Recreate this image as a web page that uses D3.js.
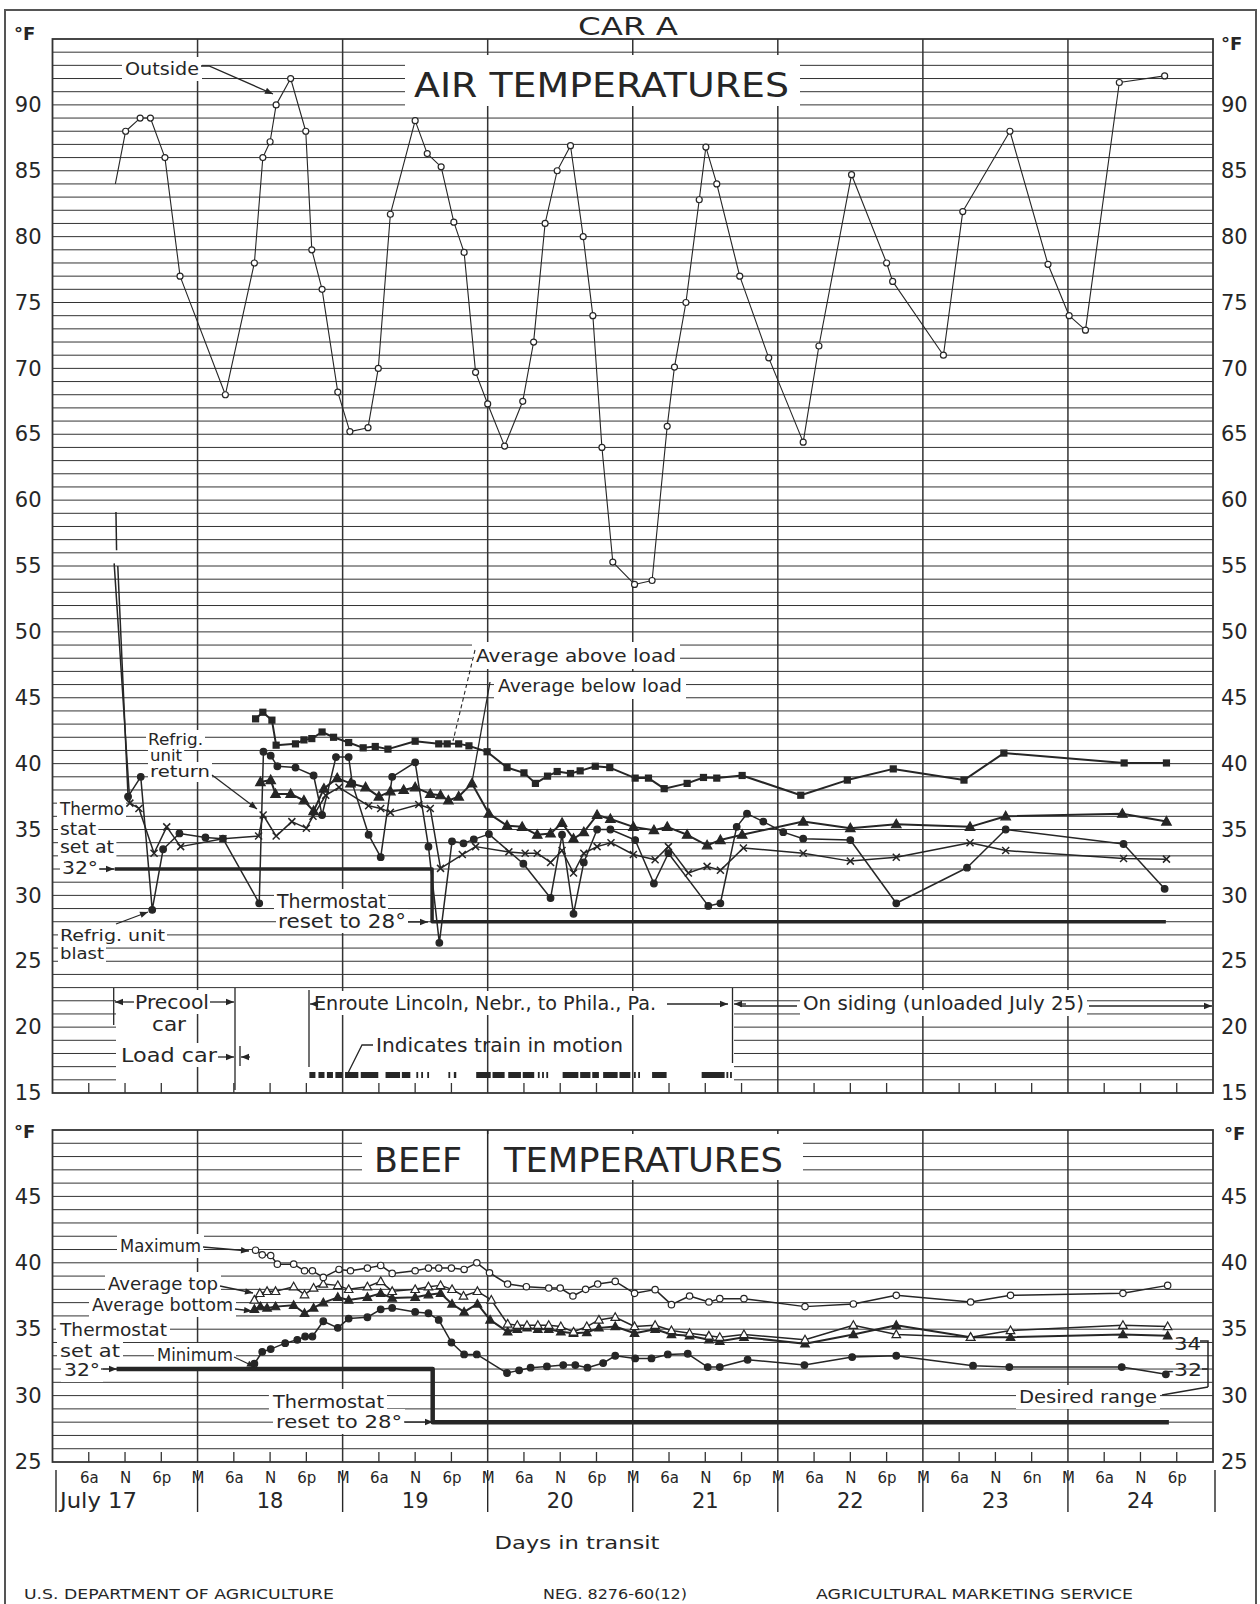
<!DOCTYPE html>
<html><head><meta charset="utf-8">
<script src="https://cdn.jsdelivr.net/npm/d3@7/dist/d3.min.js"></script>
<style>
html,body{margin:0;padding:0;background:#fff}
svg{display:block}
</style></head>
<body><svg id="chart" width="1260" height="1604"></svg>
<script>
// ---------------- DATA ----------------
const dayLabels = ["July 17","18","19","20","21","22","23","24"];
const hourTickLabels = ["6a","N","6p","M","6a","N","6p","M","6a","N","6p","M","6a","N","6p","M",
  "6a","N","6p","M","6a","N","6p","M","6a","N","6n","M","6a","N","6p"];
const airTicks = [15,20,25,30,35,40,45,50,55,60,65,70,75,80,85,90];
const beefTicks = [25,30,35,40,45];

// [hours after midnight starting July 17, °F]
const outsideAir = [[10.4,84],[12.1,88],[14.5,89],[16.2,89],[18.6,86],[21.1,77],[28.6,68],[33.4,78],[34.8,86],
  [36.0,87.2],[37.0,90],[39.4,92],[41.9,88],[42.9,79],[44.6,76],[47.2,68.2],[49.2,65.2],[52.2,65.5],[53.9,70],
  [55.9,81.7],[60.0,88.8],[62.0,86.3],[64.3,85.3],[66.4,81.1],[68.1,78.8],[70.0,69.7],[72.0,67.3],[74.8,64.1],
  [77.8,67.5],[79.6,72],[81.5,81],[83.5,85],[85.7,86.9],[87.8,80],[89.4,74],[90.9,64],[92.7,55.3],[96.3,53.6],
  [99.2,53.9],[101.7,65.6],[102.9,70.1],[104.8,75],[107.0,82.8],[108.1,86.8],[109.9,84],[113.7,77],[118.5,70.8],
  [124.2,64.4],[126.8,71.7],[132.2,84.7],[138.0,78],[139.0,76.6],[147.4,71],[150.6,81.9],[158.4,88],[164.7,77.9],
  [168.2,74],[170.9,72.9],[176.5,91.7],[184.0,92.2]];
const avgAboveLoad = [[33.6,43.4],[34.8,43.9],[36.3,43.3],[37.0,41.4],[40.2,41.5],[41.6,41.8],[42.9,41.9],[44.6,42.4],
  [46.5,42.0],[49.0,41.6],[51.4,41.2],[53.4,41.3],[55.5,41.1],[60.0,41.7],[63.9,41.5],[65.3,41.5],[67.2,41.5],
  [68.9,41.35],[71.9,40.9],[75.2,39.7],[78.0,39.3],[79.9,38.5],[81.9,39.05],[83.5,39.4],[85.7,39.25],[87.3,39.45],
  [89.8,39.8],[92.2,39.7],[96.4,38.9],[98.6,38.9],[101.2,38.1],[105.0,38.5],[107.7,38.95],[109.9,38.9],[114.1,39.1],
  [123.8,37.6],[131.5,38.75],[139.1,39.6],[150.8,38.75],[157.4,40.8],[177.3,40.05],[184.3,40.05]];
const avgBelowLoad = [[34.4,38.6],[36.1,38.75],[36.9,37.7],[39.4,37.7],[41.6,37.2],[43.2,36.4],[44.9,38.1],[47.1,38.9],
  [49.3,38.5],[51.8,38.2],[54.0,37.5],[55.9,37.9],[58.1,38.0],[60.0,38.2],[62.5,37.7],[64.2,37.6],[65.5,37.2],
  [67.2,37.5],[69.4,38.5],[72.2,36.2],[75.2,35.3],[77.7,35.2],[80.2,34.6],[82.4,34.7],[84.3,35.5],[86.2,34.3],
  [87.9,34.8],[90.1,36.1],[92.3,35.8],[96.1,35.2],[99.5,34.95],[101.7,35.2],[105.0,34.6],[108.3,33.8],[110.5,34.2],
  [114.1,34.6],[124.2,35.6],[132.0,35.1],[139.6,35.4],[151.8,35.2],[157.7,36.0],[177.0,36.2],[184.3,35.6]];
const unitReturn = [[10.2,55.2],[12.8,37.0],[14.3,36.6],[16.8,33.2],[18.9,35.2],[21.2,33.7],[28.2,34.3],[34.1,34.5],
  [34.85,36.1],[37.0,34.5],[39.6,35.6],[42.0,35.1],[43.1,36.0],[45.2,37.6],[47.4,38.2],[52.3,36.8],[54.3,36.6],
  [55.9,36.3],[60.6,36.9],[62.5,36.6],[64.2,32.05],[67.8,33.1],[70.0,33.7],[75.5,33.3],[78.2,33.2],[80.2,33.2],
  [82.4,32.5],[84.3,33.4],[86.2,31.7],[87.9,33.2],[90.1,33.7],[92.4,34.0],[96.1,33.1],[99.7,32.7],[101.9,33.7],
  [105.2,31.7],[108.3,32.2],[110.5,31.9],[114.3,33.6],[124.2,33.2],[132.0,32.6],[139.6,32.9],[151.8,34.0],
  [157.7,33.4],[177.2,32.8],[184.3,32.75]];
const unitBlast = [[10.8,55.0],[12.5,37.5],[14.6,39.0],[16.5,28.9],[18.3,33.5],[21.0,34.7],[25.3,34.4],[28.2,34.3],
  [34.2,29.4],[34.9,40.9],[36.1,40.6],[37.2,39.8],[40.2,39.7],[43.2,39.1],[44.6,36.1],[46.9,40.5],[49.0,40.5],
  [49.6,38.5],[52.3,34.6],[54.3,32.9],[56.2,39.0],[60.0,40.1],[62.2,33.7],[64.0,26.4],[66.1,34.1],[68.0,33.95],
  [69.7,34.25],[72.2,34.65],[77.9,32.4],[82.4,29.8],[84.3,34.6],[86.2,28.6],[87.9,32.5],[90.1,35.0],[92.3,35.0],
  [96.4,34.2],[99.5,30.9],[101.9,33.2],[108.5,29.2],[110.5,29.4],[113.2,35.2],[114.9,36.2],[117.6,35.6],
  [120.9,34.8],[124.2,34.3],[132.0,34.2],[139.6,29.4],[151.3,32.1],[157.7,35.0],[177.2,33.9],[184.0,30.5]];
const blastStartMark = [[10.5,59.1],[10.6,56.2]];
const thermostatAir = [[10.3,32],[62.8,32],[62.8,28],[184.2,28]];
const trainMotion = [[42.5,43.5],[44,45],[45.4,46.4],[46.8,47.9],[48.4,50.6],[51,53.9],[55.1,57.5],[57.8,59.2],
  [60.2,60.5],[61,61.3],[62,62.3],[65.5,65.8],[66.4,66.8],[70.1,72.5],[72.8,74.8],[75.4,77.5],[77.8,79.7],
  [80.3,80.6],[81,81.3],[81.7,82],[84.4,87],[87.3,89],[89.3,90.4],[91.1,93.5],[93.8,95.6],[96.2,96.5],
  [96.9,97.2],[99.2,101.6],[107.4,111.2],[111.5,111.8],[112.1,112.4]];

const beefMax = [[33.6,40.95],[34.7,40.6],[36.1,40.55],[37.2,39.9],[39.9,39.9],[41.7,39.4],[43.0,39.4],[44.8,38.9],
  [47.4,39.5],[49.3,39.4],[52.1,39.6],[54.3,39.8],[56.2,39.2],[60.0,39.4],[62.2,39.6],[63.9,39.6],[66.0,39.6],
  [68.1,39.5],[70.2,40.0],[72.3,39.25],[75.3,38.4],[78.4,38.2],[82.1,38.1],[84.0,38.1],[86.1,37.5],[88.2,38.0],
  [90.2,38.4],[93.1,38.6],[96.3,37.7],[99.7,37.98],[102.4,36.85],[105.4,37.5],[108.6,37.05],[110.4,37.3],
  [114.4,37.3],[124.5,36.7],[132.5,36.9],[139.6,37.55],[151.9,37.05],[158.5,37.55],[177.1,37.7],[184.5,38.3]];
const beefAvgTop = [[33.4,37.2],[34.3,37.7],[35.5,37.85],[36.9,37.85],[39.9,38.2],[41.7,37.6],[43.2,38.1],[44.8,38.4],
  [47.2,38.3],[49.0,38.0],[52.1,38.2],[54.3,38.6],[56.2,37.85],[60.0,38.0],[62.2,38.2],[64.2,38.3],[66.1,38.0],
  [68.0,37.5],[70.3,37.85],[72.6,37.2],[75.3,35.4],[76.9,35.3],[78.5,35.3],[80.3,35.3],[82.1,35.3],[84.1,35.2],
  [86.2,34.8],[88.4,35.2],[90.4,35.7],[93.1,35.9],[96.3,35.2],[99.7,35.3],[102.4,34.9],[105.4,34.7],[108.6,34.5],
  [110.4,34.4],[114.4,34.6],[124.5,34.2],[132.5,35.3],[139.6,34.6],[151.9,34.4],[158.5,34.9],[177.1,35.3],[184.5,35.2]];
const beefAvgBottom = [[33.4,36.5],[34.4,36.7],[35.5,36.6],[36.9,36.7],[39.9,36.8],[41.7,36.2],[43.2,36.6],[44.8,37.0],
  [47.2,37.4],[49.0,37.2],[52.1,37.4],[54.3,37.7],[56.2,37.35],[60.0,37.4],[62.2,37.6],[64.2,37.7],[66.1,36.9],
  [68.1,36.3],[70.3,36.9],[72.4,35.7],[75.3,34.8],[76.9,35.0],[78.5,35.1],[80.3,35.0],[82.1,35.0],[84.1,34.8],
  [86.2,34.7],[88.4,34.75],[90.4,35.1],[93.1,35.2],[96.3,34.7],[99.7,35.0],[102.4,34.6],[105.4,34.5],[108.6,34.2],
  [110.4,34.1],[114.4,34.4],[124.5,33.9],[132.5,34.6],[139.6,35.3],[151.9,34.4],[158.5,34.4],[177.1,34.6],[184.5,34.5]];
const beefMin = [[33.4,32.4],[34.7,33.3],[36.1,33.5],[38.5,33.95],[40.5,34.2],[41.8,34.45],[43.0,34.45],[44.8,35.6],
  [47.2,35.1],[49.0,35.8],[52.1,35.9],[54.3,36.5],[56.2,36.6],[60.0,36.3],[62.2,36.2],[63.9,35.7],[66.0,34.0],
  [68.1,33.1],[70.2,33.1],[75.2,31.7],[77.2,31.9],[79.1,32.1],[81.8,32.2],[84.5,32.3],[86.5,32.3],[88.5,32.1],
  [91.1,32.45],[93.1,33.0],[96.4,32.8],[99.1,32.8],[101.8,33.1],[105.1,33.15],[108.4,32.15],[110.4,32.15],
  [115.0,32.7],[124.4,32.3],[132.3,32.9],[139.6,33.0],[152.3,32.25],[158.3,32.15],[176.9,32.15],[184.2,31.6]];
const thermostatBeef = [[10.6,32],[62.9,32],[62.9,28],[184.7,28]];

// ---------------- DRAWING ----------------
const svg = d3.select("#chart");
const ink = "#262626";
const FONT = "'DejaVu Sans', 'Noto Sans', sans-serif";
const x = d3.scaleLinear().domain([0,192]).range([52.5,1213]);
const yA = d3.scaleLinear().domain([15,95]).range([1093,39]);
const yB = d3.scaleLinear().domain([25,50]).range([1462,1130]);

svg.append("rect").attr("width",1260).attr("height",1604).attr("fill","#fff");
svg.append("path").attr("d","M5,1604V10H1256V1604").attr("fill","none").attr("stroke","#555").attr("stroke-width",2);

const defs = svg.append("defs");
defs.append("marker").attr("id","ah").attr("viewBox","0 0 10 10").attr("refX",10).attr("refY",5)
  .attr("markerWidth",9).attr("markerHeight",8).attr("markerUnits","userSpaceOnUse").attr("orient","auto")
  .append("path").attr("d","M0,1L10,5L0,9Z").attr("fill",ink);

const gridL = svg.append("g").attr("stroke","#333").attr("fill","none");
const bgL = svg.append("g").attr("fill","#fff");
const annL = svg.append("g").attr("stroke",ink).attr("fill","none");
const serL = svg.append("g");
const txtL = svg.append("g").attr("font-family",FONT).attr("fill",ink);

function hline(y,x1,x2,w){gridL.append("line").attr("x1",x1).attr("x2",x2).attr("y1",y).attr("y2",y).attr("stroke-width",w);}
function vline(g,xx,y1,y2,w){g.append("line").attr("x1",xx).attr("x2",xx).attr("y1",y1).attr("y2",y2).attr("stroke-width",w);}

// horizontal grid
d3.range(16,95).forEach(v=>{
  const y=yA(v);
  if(v<=22){hline(y,x(0),116,1); hline(y,734,x(192),1);} else hline(y,x(0),x(192),1);
});
d3.range(26,50).forEach(v=>hline(yB(v),x(0),x(192),1));
// panel borders
gridL.append("rect").attr("x",x(0)).attr("y",yA(95)).attr("width",x(192)-x(0)).attr("height",yA(15)-yA(95)).attr("stroke-width",1.8);
gridL.append("rect").attr("x",x(0)).attr("y",yB(50)).attr("width",x(192)-x(0)).attr("height",yB(25)-yB(50)).attr("stroke-width",1.8);
// midnight verticals and 6-hour ticks
d3.range(24,192,24).forEach(h=>{vline(gridL,x(h),yA(95),yA(15),1.5); vline(gridL,x(h),yB(50),yB(25),1.5);});
d3.range(6,192,6).filter(h=>h%24).forEach(h=>{vline(gridL,x(h),yA(15)-10,yA(15),1.3); vline(gridL,x(h),yB(25)-10,yB(25),1.3);});

// text helper
function T(str,x0,y0,size,o={}){
  const t=txtL.append("text").attr("x",x0).attr("y",y0).attr("font-size",size).text(str);
  if(o.len) t.attr("textLength",o.len).attr("lengthAdjust","spacingAndGlyphs");
  if(o.anchor) t.attr("text-anchor",o.anchor);
  if(o.weight) t.attr("font-weight",o.weight);
  if(o.bg){const b=t.node().getBBox(); const p=o.bg;
    bgL.append("rect").attr("x",b.x-p).attr("y",b.y-p+1).attr("width",b.width+2*p).attr("height",b.height+2*p-2);}
  return t;
}
function arrow(pts,o={}){
  const p=annL.append("path").attr("d",d3.line()(pts)).attr("stroke-width",o.w||1.3);
  if(o.head!==false) p.attr("marker-end","url(#ah)");
  if(o.dash) p.attr("stroke-dasharray",o.dash);
}

// titles
T("CAR  A",578,35,25,{len:100});
T("°F",14,40,18,{weight:"bold"}); T("°F",1221,50,18,{weight:"bold"});
T("°F",14,1138,18,{weight:"bold"}); T("°F",1224,1140,18,{weight:"bold"});
bgL.append("rect").attr("x",405).attr("y",55).attr("width",395).attr("height",51);
T("AIR  TEMPERATURES",414,97,34,{len:375});
bgL.append("rect").attr("x",362).attr("y",1134).attr("width",441).attr("height",46);
vline(annL,x(72),1130,1180,1.5);
T("BEEF",374,1172,34,{len:88});
T("TEMPERATURES",504,1172,34,{len:279});

// axes (value labels)
function styleAxis(g,size){g.select(".domain").remove(); g.selectAll("text").attr("font-family",FONT).attr("font-size",size).attr("fill",ink);}
svg.append("g").attr("transform",`translate(${x(0)},0)`).call(d3.axisLeft(yA).tickValues(airTicks).tickSize(0).tickPadding(11)).call(g=>styleAxis(g,21));
svg.append("g").attr("transform",`translate(${x(192)},0)`).call(d3.axisRight(yA).tickValues(airTicks).tickSize(0).tickPadding(8)).call(g=>styleAxis(g,21));
svg.append("g").attr("transform",`translate(${x(0)},0)`).call(d3.axisLeft(yB).tickValues(beefTicks).tickSize(0).tickPadding(11)).call(g=>styleAxis(g,21));
svg.append("g").attr("transform",`translate(${x(192)},0)`).call(d3.axisRight(yB).tickValues(beefTicks).tickSize(0).tickPadding(8)).call(g=>styleAxis(g,21));
// time axis
svg.append("g").attr("transform","translate(0,1472)")
  .call(d3.axisBottom(x).tickValues(d3.range(6,192,6)).tickSize(0).tickPadding(0).tickFormat((d,i)=>hourTickLabels[i]))
  .call(g=>styleAxis(g,15));
[56].concat(d3.range(24,192,24).map(h=>x(h)),[1215]).forEach(xx=>vline(annL,xx,1470,1512,1.4));
dayLabels.forEach((d,i)=>{
  if(i===0) T(d,60,1508,21,{len:77});
  else T(d,x(24*i+12),1508,21,{anchor:"middle"});
});
T("Days  in  transit",577,1549,18,{anchor:"middle",len:165});
T("U.S. DEPARTMENT  OF  AGRICULTURE",24,1599,14,{len:310});
T("NEG.  8276-60(12)",543,1599,14,{len:144});
T("AGRICULTURAL  MARKETING  SERVICE",816,1599,14,{len:317});

// ----- air annotations -----
T("Outside",125,75,17,{len:74,bg:3}); arrow([[201,66],[209,66],[273,94]]);
T("Refrig.",148,745,15,{len:55,bg:2}); T("unit",150,761,15,{len:32,bg:2}); T("return",150,777,15,{len:60,bg:2});
arrow([[212,775],[257,809]]);
T("Thermo",60,815,17,{len:64,bg:2}); T("stat",60,835,17,{len:36,bg:2}); T("set at",60,853,17,{len:54,bg:2});
T("32°",62,874,17,{len:36,bg:2}); arrow([[99,869],[114,869]]);
T("Refrig. unit",60,941,16,{len:105,bg:2}); T("blast",60,959,16,{len:44,bg:2}); arrow([[116,924],[148,912]]);
T("Thermostat",277,908,19,{len:109,bg:2}); T("reset to 28°",278,928,19,{len:128,bg:2}); arrow([[408,922],[428,922]]);
T("Average  above  load",476,662,18,{len:200,bg:4}); T("Average  below  load",498,692,18,{len:184,bg:4});
arrow([[475,650],[453,741]],{head:false,dash:"4,3",w:1.1}); arrow([[490,682],[472,782]],{head:false,w:1.3});
// zone labels
T("Precool",135,1009,19,{len:74,bg:2}); T("car",169,1031,19,{anchor:"middle",len:34,bg:2});
T("Load car",121,1062,19,{len:96,bg:2});
T("Enroute Lincoln, Nebr., to Phila., Pa.",314,1010,19,{len:342,bg:2});
T("On  siding (unloaded  July 25)",803,1010,19,{len:281,bg:3});
T("Indicates  train  in  motion",376,1052,19,{len:247});
vline(annL,113.7,988,1025,1.3); vline(annL,235,988,1090,1.3); vline(annL,240,1046,1066,1.3);
vline(annL,309,990,1067,1.3); vline(annL,732.5,988,1063,1.3);
arrow([[134,1002],[115,1002]]); arrow([[210,1002],[234,1002]]);
arrow([[218,1057],[234,1057]]); arrow([[250,1057],[241,1057]]);
arrow([[318,1004],[310,1004]]); arrow([[667,1004],[728,1004]]); arrow([[746,1004],[734,1004]]);
arrow([[740,1006],[797,1006]],{head:false}); arrow([[1089,1006],[1212,1006]]);
arrow([[373,1045],[362,1045],[348,1073]],{head:false});
serL.append("g").attr("fill",ink).selectAll("rect").data(trainMotion).join("rect")
  .attr("x",d=>x(d[0])).attr("width",d=>x(d[1])-x(d[0])).attr("y",1072).attr("height",6);

// ----- beef annotations -----
T("Maximum",120,1252,17,{len:81,bg:3}); arrow([[203,1247],[249,1251]]);
T("Average  top",108,1290,17,{len:110,bg:3}); arrow([[220,1286],[253,1293]]);
T("Average  bottom",92,1311,17,{len:141,bg:3}); arrow([[235,1309],[252,1311]]);
T("Thermostat",60,1336,18,{len:107,bg:3}); T("set at",60,1357,18,{len:60,bg:3});
T("32°",64,1376,18,{len:36,bg:3}); arrow([[101,1369],[117,1369]]);
T("Minimum",157,1361,17,{len:76,bg:3}); arrow([[234,1357],[255,1367]]);
T("Thermostat",273,1408,18,{len:111,bg:3}); T("reset to 28°",276,1428,18,{len:126,bg:3}); arrow([[404,1422],[433,1422]]);
T("34",1174,1350,17,{len:27}); T("-32",1166,1376,17,{len:36});
annL.append("path").attr("d","M1200,1341H1208V1387M1202,1369H1208").attr("stroke-width",1.5);
arrow([[1208,1387],[1162,1395]],{head:false,w:1.5});
T("Desired range",1019,1403,17,{len:138,bg:3});

// ----- series -----
function marker(g,type,cx,cy,s){
  if(type==="ocircle"||type==="circle")
    g.append("circle").attr("cx",cx).attr("cy",cy).attr("r",s).attr("fill",type==="circle"?ink:"#fff").attr("stroke",ink).attr("stroke-width",1.2);
  else if(type==="square")
    g.append("rect").attr("x",cx-s).attr("y",cy-s).attr("width",2*s).attr("height",2*s).attr("fill",ink);
  else if(type==="tri"||type==="otri")
    g.append("path").attr("d",`M${cx},${cy-s}L${cx+s*0.95},${cy+s*0.7}L${cx-s*0.95},${cy+s*0.7}Z`)
     .attr("fill",type==="tri"?ink:"#fff").attr("stroke",ink).attr("stroke-width",1.2);
  else if(type==="x")
    g.append("path").attr("d",`M${cx-s},${cy-s}L${cx+s},${cy+s}M${cx+s},${cy-s}L${cx-s},${cy+s}`).attr("stroke",ink).attr("stroke-width",1.5);
}
function series(data,y,o){
  serL.append("path").datum(data).attr("d",d3.line().x(d=>x(d[0])).y(d=>y(d[1])))
    .attr("fill","none").attr("stroke",ink).attr("stroke-width",o.w).attr("stroke-linejoin","round");
  if(!o.marker) return;
  const g=serL.append("g");
  (o.skipFirst?data.slice(1):data).forEach(d=>marker(g,o.marker,x(d[0]),y(d[1]),o.size));
}
series(thermostatAir,yA,{w:3.5});
series(thermostatBeef,yB,{w:4.5});
series(outsideAir,yA,{w:1.1,marker:"ocircle",size:3,skipFirst:true});
series(blastStartMark,yA,{w:1.5});
series(unitBlast,yA,{w:1.5,marker:"circle",size:3.3,skipFirst:true});
series(unitReturn,yA,{w:1.5,marker:"x",size:3.5,skipFirst:true});
series(avgBelowLoad,yA,{w:2,marker:"tri",size:5});
series(avgAboveLoad,yA,{w:2,marker:"square",size:3.6});
series(beefMin,yB,{w:1.5,marker:"circle",size:3.3});
series(beefAvgBottom,yB,{w:2,marker:"tri",size:4.5});
series(beefAvgTop,yB,{w:1.5,marker:"otri",size:4.5});
series(beefMax,yB,{w:1.5,marker:"ocircle",size:3.2});
</script>
</body></html>
